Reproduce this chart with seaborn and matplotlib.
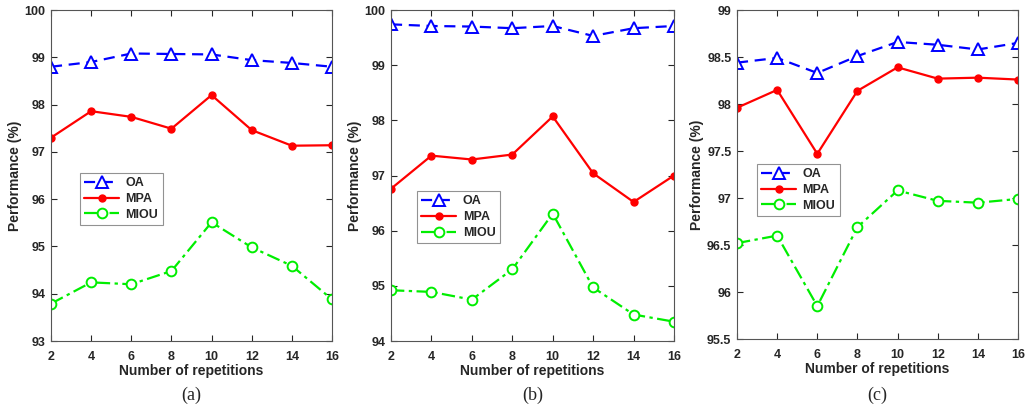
import numpy as np
import pandas as pd
import matplotlib
matplotlib.use("Agg")
import matplotlib.pyplot as plt
from matplotlib.ticker import FormatStrFormatter
import seaborn as sns

# Datos
repeticiones = [2, 4, 6, 8, 10, 12, 14, 16]

oa_a = [98.80, 98.90, 99.08, 99.07, 99.06, 98.94, 98.88, 98.80]
mpa_a = [97.30, 97.86, 97.74, 97.49, 98.20, 97.46, 97.13, 97.14]
miou_a = [93.79, 94.24, 94.20, 94.48, 95.51, 94.98, 94.59, 93.88]

oa_b = [99.74, 99.71, 99.70, 99.67, 99.71, 99.53, 99.67, 99.71]
mpa_b = [96.76, 97.36, 97.29, 97.38, 98.07, 97.04, 96.52, 97.00]
miou_b = [94.92, 94.89, 94.75, 95.30, 96.31, 94.97, 94.48, 94.35]

oa_c = [98.44, 98.49, 98.33, 98.51, 98.66, 98.63, 98.58, 98.65]
mpa_c = [97.96, 98.15, 97.47, 98.14, 98.39, 98.27, 98.28, 98.26]
miou_c = [96.52, 96.60, 95.85, 96.69, 97.08, 96.97, 96.95, 96.99]

etiquetas = ["(a)", "(b)", "(c)"]
limites_y = [(93, 100), (94, 100), (95.5, 99)]
paso_y = [1, 1, 0.5]

sns.set_style("ticks")
plt.rcParams['font.family'] = ['Liberation Sans', 'DejaVu Sans']

fig = plt.figure(figsize=(10.28, 4.11), dpi=100)
W, H = 1028, 411
# posiciones de los ejes en pixeles (izq, der, arriba, abajo)
cajas = [(51, 332, 10, 341), (391, 674, 10, 341), (737, 1018, 10, 339)]
leyendas = [(0.103, 0.508), (0.092, 0.453), (0.071, 0.532)]

datos = [(oa_a, mpa_a, miou_a), (oa_b, mpa_b, miou_b), (oa_c, mpa_c, miou_c)]
verde = '#00ee00'

for i, (oa, mpa, miou) in enumerate(datos):
    l, r, t, b = cajas[i]
    ax = fig.add_axes([l / W, 1 - b / H, (r - l) / W, (b - t) / H])

    sns.lineplot(x=repeticiones, y=oa, ax=ax, color='#0000ff', linestyle=(0, (5, 3)),
                 linewidth=1.6, marker='^', markersize=8, markerfacecolor='white',
                 markeredgecolor='#0000ff', markeredgewidth=1.4, label='OA')
    sns.lineplot(x=repeticiones, y=mpa, ax=ax, color='#ff0000', linestyle='-',
                 linewidth=1.6, marker='o', markersize=5, markerfacecolor='#ff0000',
                 markeredgecolor='#ff0000', markeredgewidth=1.0, label='MPA')
    sns.lineplot(x=repeticiones, y=miou, ax=ax, color=verde, linestyle=(0, (6, 2, 1.5, 2)),
                 linewidth=1.6, marker='o', markersize=7, markerfacecolor='white',
                 markeredgecolor=verde, markeredgewidth=1.4, label='MIOU')

    ax.set_xlim(2, 16)
    ax.set_ylim(*limites_y[i])
    ax.set_xticks(repeticiones)
    ax.set_yticks(np.arange(limites_y[i][0], limites_y[i][1] + 0.01, paso_y[i]))
    ax.yaxis.set_major_formatter(FormatStrFormatter('%g'))
    ax.tick_params(direction='in', top=True, right=True, labelsize=9,
                   length=4, width=0.8, colors='#262626')
    ax.tick_params(axis='x', pad=7)
    ax.tick_params(axis='y', pad=4)
    for lab in ax.get_xticklabels() + ax.get_yticklabels():
        lab.set_fontweight('bold')
    for s in ax.spines.values():
        s.set_color('#555555')
        s.set_linewidth(0.8)
    ax.set_xlabel('Number of repetitions', fontsize=10, fontweight='bold', labelpad=1)
    ax.set_ylabel('Performance (%)', fontsize=10, fontweight='bold', labelpad=2)

    leg = ax.legend(loc='upper left', bbox_to_anchor=leyendas[i], borderaxespad=0,
                    fontsize=9, frameon=True, fancybox=False, edgecolor='#777777',
                    handlelength=2.8, labelspacing=0.3, borderpad=0.35, handletextpad=0.5)
    leg.get_frame().set_linewidth(0.8)
    for txt in leg.get_texts():
        txt.set_fontweight('bold')

    fig.text(((l + r) / 2) / W, 1 - 395 / H, etiquetas[i], ha='center', va='center',
             fontsize=13, family=['Liberation Serif', 'DejaVu Serif'])

fig.savefig('out.png', dpi=100)
